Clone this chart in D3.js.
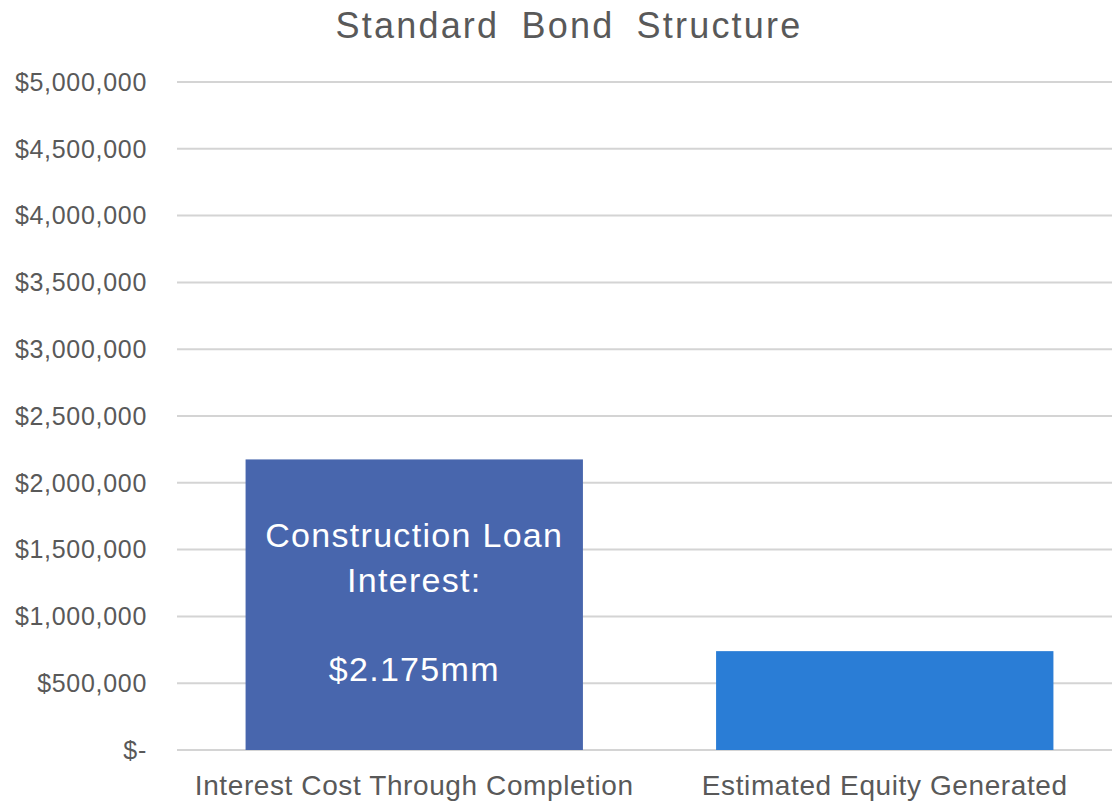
<!DOCTYPE html>
<html>
<head>
<meta charset="utf-8">
<script src="https://cdn.jsdelivr.net/npm/d3@7"></script>
<style>
  html, body { margin: 0; padding: 0; background: #fff; }
  text { font-family: "Liberation Sans", Arial, sans-serif; }
</style>
</head>
<body>
<div id="chart"></div>
<script>
/* --- data --- */
const categories = ["Interest Cost Through Completion", "Estimated Equity Generated"];
const values = [2175000, 740000];
const barColors = ["#4866ad", "#2a7dd6"];
const yTicks = [0, 500000, 1000000, 1500000, 2000000, 2500000, 3000000, 3500000, 4000000, 4500000, 5000000];
const barNote = ["Construction Loan", "Interest:", "", "$2.175mm"];
const title = "Standard Bond Structure";

/* --- viewport --- */
const width = 1112, height = 801;
const plot = {left: 179, right: 1120, top: 82, bottom: 750};

const svg = d3.select("#chart").append("svg")
    .attr("width", width)
    .attr("height", height);

/* --- scales --- */
const x = d3.scaleBand()
    .domain(categories)
    .range([plot.left, plot.right])
    .paddingInner(0.283)
    .paddingOuter(0.1415);

const y = d3.scaleLinear()
    .domain([0, 5000000])
    .range([plot.bottom, plot.top]);

const fmt = function(v) {
    return v === 0 ? "$-" : "$" + d3.format(",")(v);
};

/* --- grid --- */
svg.append("g")
    .selectAll("line")
    .data(yTicks)
    .join("line")
    .attr("x1", 177)
    .attr("x2", width)
    .attr("y1", d => y(d))
    .attr("y2", d => y(d))
    .attr("stroke", "#d4d4d4")
    .attr("stroke-width", 2);

/* --- y axis labels --- */
svg.append("g")
    .selectAll("text")
    .data(yTicks)
    .join("text")
    .attr("x", 147)
    .attr("y", d => y(d))
    .attr("dy", "0.35em")
    .attr("text-anchor", "end")
    .attr("fill", "#595959")
    .attr("font-size", 25)
    .attr("letter-spacing", 0.7)
    .text(fmt);

/* --- bars --- */
svg.append("g")
    .selectAll("rect")
    .data(values)
    .join("rect")
    .attr("x", (d, i) => x(categories[i]))
    .attr("width", x.bandwidth())
    .attr("y", d => y(d))
    .attr("height", d => y(0) - y(d))
    .attr("fill", (d, i) => barColors[i]);

/* --- bar note --- */
const cx = x(categories[0]) + x.bandwidth() / 2;
svg.append("text")
    .attr("text-anchor", "middle")
    .attr("fill", "#ffffff")
    .attr("font-size", 34)
    .attr("letter-spacing", 1.3)
    .selectAll("tspan")
    .data(barNote)
    .join("tspan")
    .attr("x", cx)
    .attr("y", (d, i) => 547 + i * 44.5)
    .text(d => d);

/* --- category labels --- */
svg.append("g")
    .selectAll("text")
    .data(categories)
    .join("text")
    .attr("x", d => x(d) + x.bandwidth() / 2)
    .attr("y", 795)
    .attr("text-anchor", "middle")
    .attr("fill", "#595959")
    .attr("font-size", 28)
    .attr("letter-spacing", 0.6)
    .text(d => d);

/* --- title --- */
svg.append("text")
    .attr("x", 569)
    .attr("y", 38)
    .attr("text-anchor", "middle")
    .attr("fill", "#595959")
    .attr("font-size", 36)
    .attr("word-spacing", 10)
    .attr("letter-spacing", 2.2)
    .text(title);
</script>
</body>
</html>
